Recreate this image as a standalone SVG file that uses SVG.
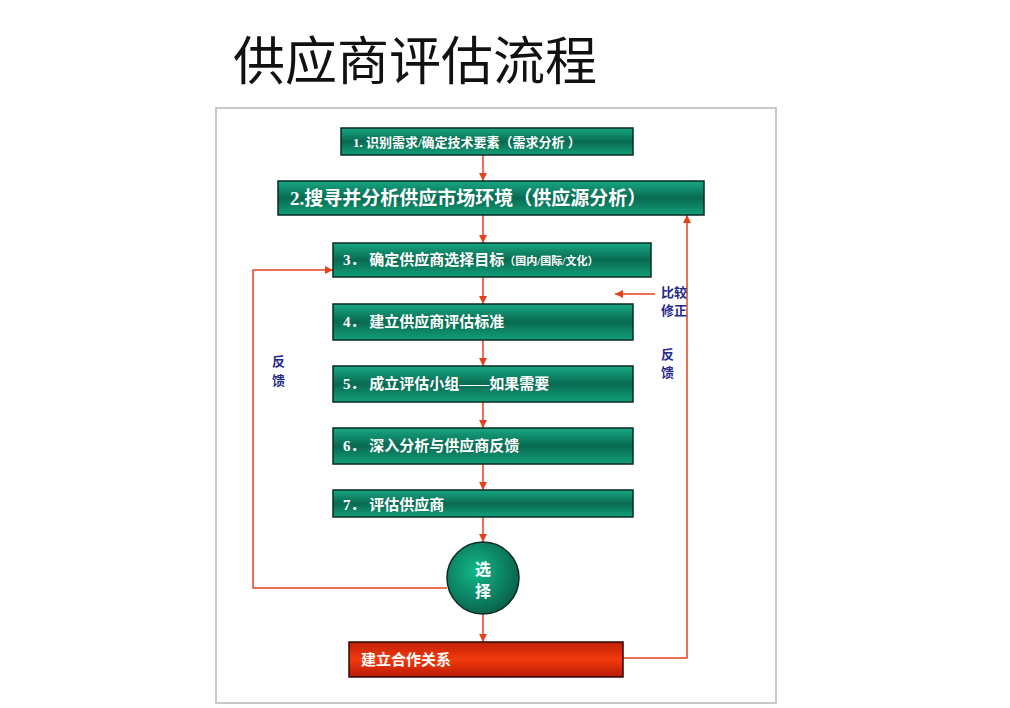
<svg xmlns="http://www.w3.org/2000/svg" width="1010" height="708" viewBox="0 0 1010 708">
<defs>
<linearGradient id="g" x1="0" y1="0" x2="0" y2="1">
<stop offset="0" stop-color="#17a884"/><stop offset="0.5" stop-color="#086a50"/><stop offset="1" stop-color="#12a07a"/>
</linearGradient>
<linearGradient id="r" x1="0" y1="0" x2="0" y2="1">
<stop offset="0" stop-color="#c02008"/><stop offset="0.5" stop-color="#f23a0c"/><stop offset="1" stop-color="#b81a05"/>
</linearGradient>
<radialGradient id="c" cx="0.4" cy="0.4" r="0.7">
<stop offset="0" stop-color="#12b88a"/><stop offset="1" stop-color="#075a44"/>
</radialGradient>
<marker id="a" viewBox="0 0 10 10" refX="10" refY="5" markerWidth="8" markerHeight="8" orient="auto" markerUnits="userSpaceOnUse"><path d="M0,0L10,5L0,10z" fill="#e8401c"/></marker>
</defs>
<style>
.b{fill:url(#g);stroke:#0a2a20;stroke-width:1.5}
.t{font-family:"Liberation Serif","Noto Sans CJK SC",serif;font-weight:bold;fill:#fff}
.l{stroke:#c0504d;stroke-width:1.5;fill:none}
.d{stroke:#e8401c;stroke-width:1.5;fill:none;marker-end:url(#a)}
.lb{font-family:"Noto Sans CJK SC",sans-serif;font-weight:bold;fill:#1f2a8a;font-size:13px}
</style>
<rect width="1010" height="708" fill="#fff"/>
<text x="233" y="80" font-family="Noto Sans CJK SC,sans-serif" font-size="52" fill="#111">供应商评估流程</text>
<rect x="216" y="108" width="560" height="595" fill="none" stroke="#c8c8c8" stroke-width="2"/>
<g id="connectors">
<path class="d" d="M483,155V181"/>
<path class="d" d="M483,215V243"/>
<path class="d" d="M483,277V304"/>
<path class="d" d="M483,340V366"/>
<path class="d" d="M483,402V428"/>
<path class="d" d="M483,464V490"/>
<path class="d" d="M483,517V542"/>
<path class="d" d="M483,614V642"/>
<path class="d" d="M447,588H253V270H333"/>
<path class="d" d="M623,658H687V215"/>
<path class="d" d="M655,294H615"/>
</g>
<g id="n1"><rect class="b" x="341" y="128" width="292" height="27"/><text class="t" x="353" y="147" font-size="13">1. 识别需求/确定技术要素（需求分析 ）</text></g>
<g id="n2"><rect class="b" x="278" y="181" width="426" height="34"/><text class="t" x="290" y="205" font-size="19">2.搜寻并分析供应市场环境（供应源分析）</text></g>
<g id="n3"><rect class="b" x="333" y="243" width="318" height="34"/><text class="t" x="343" y="265" font-size="15">3． 确定供应商选择目标<tspan font-size="11">（国内/国际/文化）</tspan></text></g>
<g id="n4"><rect class="b" x="333" y="304" width="300" height="36"/><text class="t" x="343" y="327" font-size="15">4． 建立供应商评估标准</text></g>
<g id="n5"><rect class="b" x="333" y="366" width="300" height="36"/><text class="t" x="343" y="389" font-size="15">5． 成立评估小组——如果需要</text></g>
<g id="n6"><rect class="b" x="333" y="428" width="300" height="36"/><text class="t" x="343" y="451" font-size="15">6． 深入分析与供应商反馈</text></g>
<g id="n7"><rect class="b" x="333" y="490" width="300" height="27"/><text class="t" x="343" y="510" font-size="15">7． 评估供应商</text></g>
<g id="sel"><circle cx="483" cy="578" r="36" fill="url(#c)" stroke="#0a2a20" stroke-width="1.5"/><text class="t" x="483" y="575" font-size="16" text-anchor="middle">选</text><text class="t" x="483" y="597" font-size="16" text-anchor="middle">择</text></g>
<g id="coop"><rect x="349" y="642" width="274" height="35" fill="url(#r)" stroke="#2a0a05" stroke-width="1.5"/><text class="t" x="361" y="665" font-size="15">建立合作关系</text></g>
<g id="labels">
<text class="lb" x="272" y="366">反</text><text class="lb" x="272" y="385">馈</text>
<text class="lb" x="661" y="297">比较</text><text class="lb" x="661" y="315">修正</text>
<text class="lb" x="661" y="359">反</text><text class="lb" x="661" y="377">馈</text>
</g>
</svg>
